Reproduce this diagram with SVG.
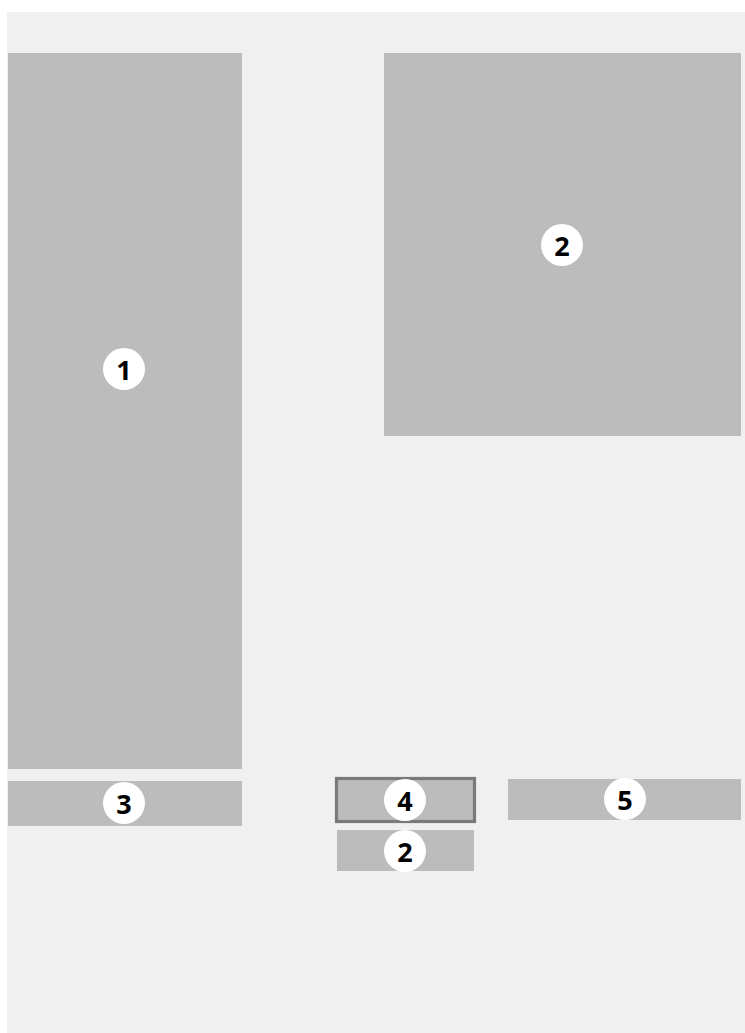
<svg xmlns="http://www.w3.org/2000/svg" width="745" height="1033" viewBox="0 0 745 1033">
<style>
.blk{fill:#bcbcbc}
.badge{fill:#ffffff}
.num{font-family:"Open Sans","Liberation Sans",sans-serif;font-weight:700;font-size:27px;fill:#000;text-anchor:middle;dominant-baseline:central}
</style>
<rect x="0" y="0" width="745" height="1033" fill="#ffffff"/>
<rect x="7" y="12" width="738" height="1021" fill="#f0f0f0"/>
<g id="node1"><rect class="blk" x="8" y="53" width="234" height="716"/><circle class="badge" cx="124" cy="369" r="21"/><text class="num" x="124" y="369">1</text></g>
<g id="node2"><rect class="blk" x="384" y="53" width="357" height="383"/><circle class="badge" cx="562" cy="245" r="21"/><text class="num" x="562" y="245">2</text></g>
<g id="node3"><rect class="blk" x="8" y="781" width="234" height="45"/><circle class="badge" cx="124" cy="803" r="21"/><text class="num" x="124" y="803">3</text></g>
<g id="node4"><rect class="blk" x="336.5" y="778.5" width="138" height="43" stroke="#7a7a7a" stroke-width="3.2"/><circle class="badge" cx="405" cy="800" r="21"/><text class="num" x="405" y="800">4</text></g>
<g id="node2b"><rect class="blk" x="337" y="830" width="137" height="41"/><circle class="badge" cx="405" cy="851" r="21"/><text class="num" x="405" y="851">2</text></g>
<g id="node5"><rect class="blk" x="508" y="779" width="233" height="41"/><circle class="badge" cx="625" cy="799" r="21"/><text class="num" x="625" y="799">5</text></g>
<g id="connectors"></g>
</svg>
